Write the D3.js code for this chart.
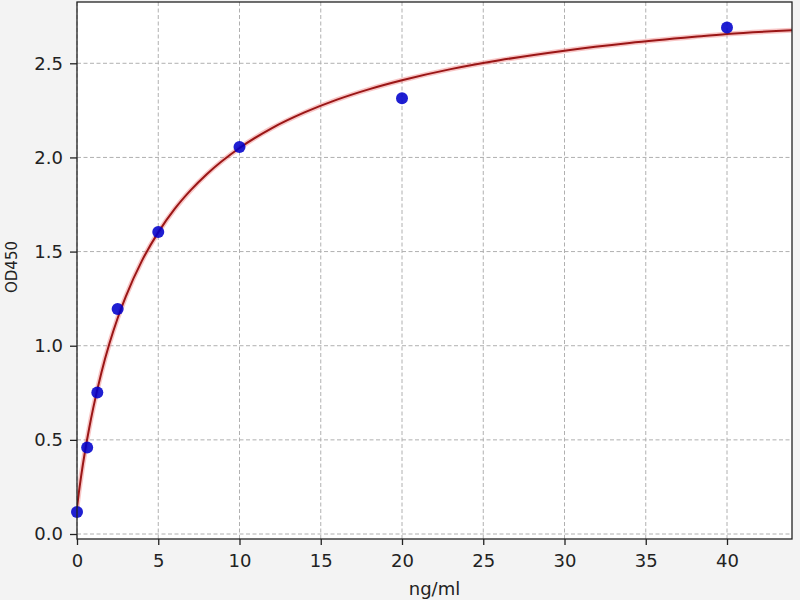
<!DOCTYPE html>
<html><head><meta charset="utf-8">
<script src="https://cdn.jsdelivr.net/npm/d3@7"></script>
<style>
html,body{margin:0;padding:0;background:#f3f3f3;}
svg{display:block;}
</style></head>
<body>
<svg id="chart" width="800" height="600"></svg>
<script>
// Standard points
const concentrations = [0, 0.625, 1.25, 2.5, 5, 10, 20, 40];
const odValues = [0.117, 0.46, 0.752, 1.195, 1.604, 2.055, 2.314, 2.69];
// Fitted curve
const curveX = [0, 0.1, 0.25, 0.5, 0.75, 1, 1.5, 2, 2.5, 3, 4, 5, 6, 7, 8, 10, 12, 14, 16, 18, 20, 23, 26, 30, 34, 38, 40, 44];
const curveY = [0.14, 0.211, 0.305, 0.442, 0.562, 0.670, 0.857, 1.013, 1.146, 1.261, 1.452, 1.602, 1.725, 1.826, 1.912, 2.05, 2.156, 2.239, 2.307, 2.363, 2.41, 2.469, 2.516, 2.567, 2.608, 2.641, 2.656, 2.675];
const xTicks = [0, 5, 10, 15, 20, 25, 30, 35, 40];
const yTicks = [0.0, 0.5, 1.0, 1.5, 2.0, 2.5];

const L = 77, R = 792, T = 2, B = 539;
const svg = d3.select("#chart");
const x = d3.scaleLinear().domain([0, 44]).range([L, R]);
const y = d3.scaleLinear().domain([-0.0265, 2.8255]).range([B, T]);

svg.append("rect").attr("x", L).attr("y", T).attr("width", R - L).attr("height", B - T).attr("fill", "#fff");

// grid
const grid = svg.append("g").attr("stroke", "#b0b0b0").attr("stroke-width", 1).attr("stroke-dasharray", "4,2.5");
grid.selectAll(".gx").data(xTicks).join("line")
  .attr("x1", d => x(d)).attr("x2", d => x(d)).attr("y1", T).attr("y2", B);
grid.selectAll(".gy").data(yTicks).join("line")
  .attr("x1", L).attr("x2", R).attr("y1", d => y(d)).attr("y2", d => y(d));

// axes
const fontFam = "DejaVu Sans, sans-serif";
const xAxis = svg.append("g").attr("transform", `translate(0,${B})`)
  .call(d3.axisBottom(x).tickValues(xTicks).tickFormat(d3.format("d")).tickSize(6).tickPadding(9));
const yAxis = svg.append("g").attr("transform", `translate(${L},0)`)
  .call(d3.axisLeft(y).tickValues(yTicks).tickFormat(d3.format(".1f")).tickSize(7).tickPadding(7));
[xAxis, yAxis].forEach(a => {
  a.select(".domain").remove();
  a.selectAll("line").attr("stroke", "#222").attr("stroke-width", 1.3);
  a.selectAll("text").attr("fill", "#222").style("font-family", fontFam).style("font-size", "18px");
});

// curve
const pts = curveX.map((d, i) => [d, curveY[i]]);
const line = d3.line().x(d => x(d[0])).y(d => y(d[1])).curve(d3.curveMonotoneX);
const clip = svg.append("clipPath").attr("id", "clip").append("rect")
  .attr("x", L).attr("y", T).attr("width", R - L).attr("height", B - T);
const plot = svg.append("g").attr("clip-path", "url(#clip)");
plot.append("path").datum(pts).attr("d", line).attr("fill", "none")
  .attr("stroke", "#f08080").attr("stroke-opacity", 0.45).attr("stroke-width", 5);
plot.append("path").datum(pts).attr("d", line).attr("fill", "none")
  .attr("stroke", "#9a1616").attr("stroke-width", 2);

// points
svg.append("g").selectAll("circle").data(concentrations).join("circle")
  .attr("cx", d => x(d)).attr("cy", (d, i) => y(odValues[i])).attr("r", 6)
  .attr("fill", "#0000cc").attr("fill-opacity", 0.88);

// frame
svg.append("rect").attr("x", L).attr("y", T).attr("width", R - L).attr("height", B - T)
  .attr("fill", "none").attr("stroke", "#222").attr("stroke-width", 1.3);

// labels
svg.append("text").attr("x", (L + R) / 2).attr("y", 595).attr("text-anchor", "middle")
  .style("font-family", fontFam).style("font-size", "18px").attr("fill", "#222").text("ng/ml");
svg.append("text").attr("transform", `translate(17,267) rotate(-90)`).attr("text-anchor", "middle")
  .style("font-family", fontFam).style("font-size", "15px").attr("fill", "#222").text("OD450");
</script>
</body></html>
